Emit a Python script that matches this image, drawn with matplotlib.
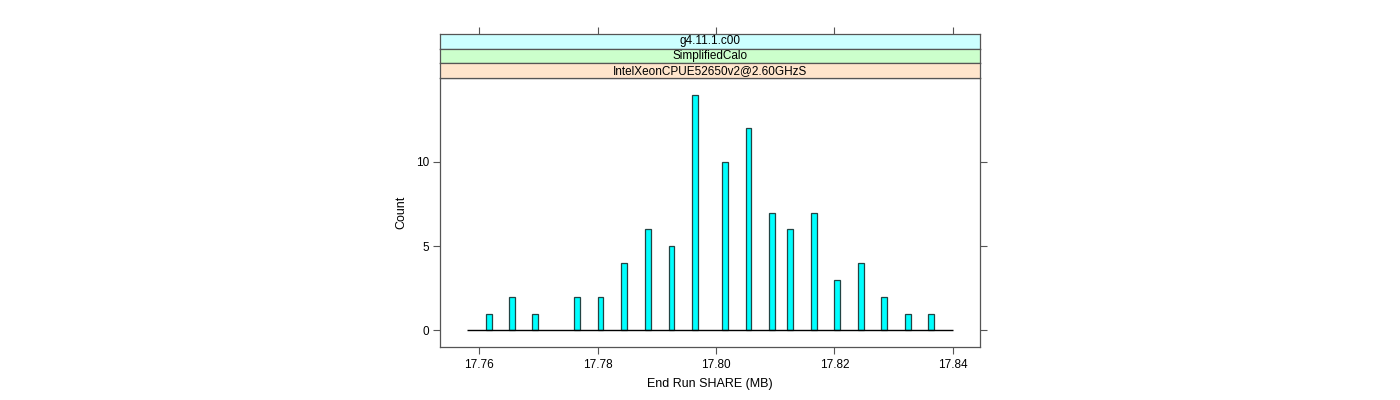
import matplotlib.pyplot as plt
import numpy as np

# histogram bins (MB) that hold data, and their counts
share_mb = [17.7616, 17.7655, 17.7695, 17.7765, 17.7805, 17.7845, 17.7885,
            17.7925, 17.7965, 17.8015, 17.8055, 17.8095, 17.8125, 17.8165,
            17.8205, 17.8245, 17.8284, 17.8324, 17.8364]
counts = [1, 2, 1, 2, 2, 4, 6, 5, 14, 10, 12, 7, 6, 7, 3, 4, 2, 1, 1]
bin_width = 0.001
hist_range = (17.758, 17.840)
data_range = (17.759, 17.839)

strip_labels = ["g4.11.1.c00", "SimplifiedCalo", "IntelXeonCPUE52650v2@2.60GHzS"]
strip_colors = ["#ccffff", "#ccffcc", "#ffe5cc"]

xticks = [17.76, 17.78, 17.80, 17.82, 17.84]
yticks = [0, 5, 10]

plt.rcParams['font.family'] = ['Liberation Sans', 'DejaVu Sans']

fig = plt.figure(figsize=(14, 4), dpi=100)
W, H = 1400, 400
left, right = 440 / W, 980 / W
bottom, top = 1 - 347 / H, 1 - 78 / H
ax = fig.add_axes([left, bottom, right - left, top - bottom])

frame = '#555555'
ax.bar(share_mb, counts, width=bin_width, color='#00ffff',
       edgecolor='#224444', linewidth=0.9, zorder=2)
ax.hlines(0, hist_range[0], hist_range[1], color='black', linewidth=1, zorder=3)

pad = 0.07 * (data_range[1] - data_range[0])
ax.set_xlim(data_range[0] - pad, data_range[1] + pad)
ax.set_ylim(-0.07 * max(counts), max(counts) * 1.07)
ax.set_xticks(xticks)
ax.set_xticklabels([f"{v:.2f}" for v in xticks])
ax.set_yticks(yticks)
ax.tick_params(axis='both', direction='out', length=5, width=0.8, color=frame,
               labelsize=8.5, pad=4)
ax.tick_params(axis='y', right=True, pad=3)
for s in ax.spines.values():
    s.set_color(frame)
    s.set_linewidth(0.9)
ax.set_xlabel("End Run SHARE (MB)", fontsize=9, labelpad=5)
ax.set_ylabel("Count", fontsize=9, labelpad=6)

# strips above the panel
strip_top = 1 - 34 / H
sh = (strip_top - top) / len(strip_labels)
for i, (lab, col) in enumerate(zip(strip_labels, strip_colors)):
    y0 = strip_top - (i + 1) * sh
    sax = fig.add_axes([left, y0, right - left, sh], sharex=ax)
    sax.set_facecolor(col)
    sax.set_yticks([])
    sax.text(0.5, 0.5, lab, transform=sax.transAxes, ha='center', va='center',
             fontsize=8.5)
    for s in sax.spines.values():
        s.set_color(frame)
        s.set_linewidth(0.9)
    if i == 0:
        sax.tick_params(axis='x', bottom=False, labelbottom=False, top=True,
                        labeltop=False, direction='out', length=5, width=0.8,
                        color=frame)
    else:
        sax.tick_params(axis='x', bottom=False, labelbottom=False)

fig.savefig("out.png", dpi=100)
